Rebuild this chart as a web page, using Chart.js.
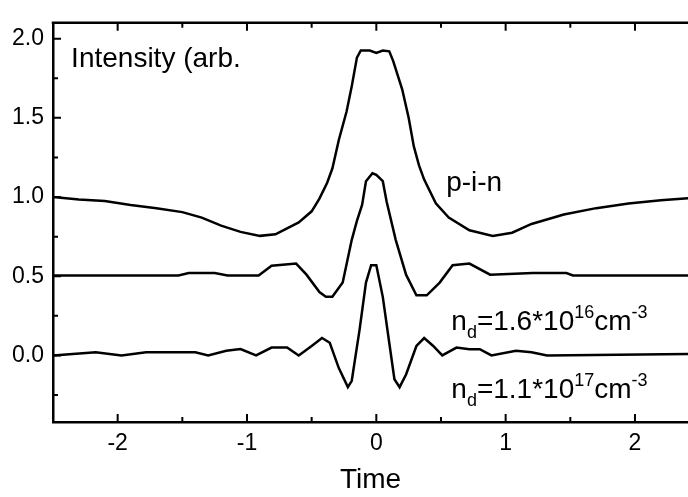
<!DOCTYPE html>
<html>
<head>
<meta charset="utf-8">
<script src="https://cdn.jsdelivr.net/npm/chart.js@4"></script>
<style>
  html, body { margin: 0; padding: 0; background: #fff; }
</style>
</head>
<body>
<canvas id="graph" width="688" height="497"></canvas>
<script>
const ctx = document.getElementById("graph");

// p-i-n trace (top)
const pinTime = [
  -2.5, -2.3, -2.1, -1.9, -1.7, -1.5, -1.35, -1.2, -1.05, -0.9, -0.78, -0.6,
  -0.5, -0.44, -0.38, -0.34, -0.29, -0.23, -0.19, -0.15, -0.12, -0.05, 0, 0.05,
  0.1, 0.13, 0.2, 0.25, 0.29, 0.33, 0.37, 0.46, 0.56, 0.72, 0.9, 1.05, 1.2,
  1.45, 1.7, 1.95, 2.2, 2.45,
];
const pinValues = [
  1.0, 0.985, 0.975, 0.95, 0.93, 0.905, 0.87, 0.82, 0.78, 0.755, 0.765, 0.84,
  0.91, 0.99, 1.09, 1.18, 1.36, 1.54, 1.7, 1.88, 1.925, 1.925, 1.91, 1.925,
  1.92, 1.86, 1.68, 1.5, 1.32, 1.2, 1.11, 0.96, 0.87, 0.79, 0.755, 0.775, 0.83,
  0.89, 0.93, 0.96, 0.98, 0.995,
];

// n_d = 1.6e16 trace (middle)
const midTime = [
  -2.5, -1.53, -1.45, -1.25, -1.15, -0.91, -0.81, -0.62, -0.54, -0.44, -0.39,
  -0.34, -0.26, -0.19, -0.15, -0.11, -0.08, -0.03, 0, 0.05, 0.08, 0.15, 0.23,
  0.31, 0.39, 0.49, 0.59, 0.72, 0.88, 1.21, 1.47, 1.52, 2.45,
];
const midValues = [
  0.505, 0.505, 0.52, 0.52, 0.505, 0.505, 0.567, 0.58, 0.51, 0.4, 0.37,
  0.37, 0.46, 0.73, 0.85, 0.95, 1.1, 1.15, 1.14, 1.1, 0.97, 0.73, 0.51,
  0.38, 0.38, 0.46, 0.57, 0.58, 0.51, 0.52, 0.52, 0.505, 0.505,
];

// n_d = 1.1e17 trace (bottom)
const lowTime = [
  -2.5, -2.17, -1.97, -1.78, -1.4, -1.3, -1.16, -1.05, -0.93, -0.81, -0.69,
  -0.6, -0.5, -0.42, -0.36, -0.29, -0.22, -0.19, -0.13, -0.08, -0.04, 0,
  0.05, 0.1, 0.14, 0.18, 0.23, 0.31, 0.37, 0.44, 0.51, 0.62, 0.72, 0.8, 0.89,
  1.08, 1.2, 1.32, 2.45,
];
const lowValues = [
  0.0, 0.02, 0.0, 0.02, 0.02, 0.0, 0.03, 0.04, 0.0, 0.05, 0.05,
  0.0, 0.06, 0.11, 0.08, -0.08, -0.2, -0.16, 0.16, 0.46, 0.57, 0.57,
  0.37, 0.08, -0.15, -0.2, -0.12, 0.06, 0.11, 0.06, 0.0, 0.05, 0.04, 0.04, 0.0,
  0.03, 0.02, 0.0, 0.01,
];

const xTicks = [-2, -1, 0, 1, 2];
const xMinorTicks = [-2.5, -1.5, -0.5, 0.5, 1.5];
const yTicks = [0, 0.5, 1, 1.5, 2];
const yMinorTicks = [-0.25, 0.25, 0.75, 1.25, 1.75];

const FONT = '"Liberation Sans", Arial, sans-serif';

function toPoints(xs, ys) {
  return xs.map((x, i) => ({ x: x, y: ys[i] }));
}

function series(xs, ys) {
  return {
    data: toPoints(xs, ys),
    borderColor: "#000",
    borderWidth: 2.5,
    pointRadius: 0,
    tension: 0,
    fill: false,
  };
}

// text labels: pieces are [text, "sub" | "sup" | undefined]
const notes = [
  { x: -2.36, y: 1.82, parts: [["Intensity (arb."]] },
  { x: 0.54, y: 1.04, parts: [["p-i-n"]] },
  {
    x: 0.58, y: 0.16,
    parts: [["n"], ["d", "sub"], ["=1.6*10"], ["16", "sup"], ["cm"], ["-3", "sup"]],
  },
  {
    x: 0.58, y: -0.27,
    parts: [["n"], ["d", "sub"], ["=1.1*10"], ["17", "sup"], ["cm"], ["-3", "sup"]],
  },
];

const framePlugin = {
  id: "frame",
  afterDraw(chart) {
    const c = chart.ctx;
    const a = chart.chartArea;
    const xs = chart.scales.x;
    const ys = chart.scales.y;
    c.save();
    c.strokeStyle = "#000";
    c.lineWidth = 2.5;
    c.beginPath();
    c.moveTo(a.left - 1.25, a.top);
    c.lineTo(a.right, a.top);
    c.stroke();

    c.lineWidth = 2;
    c.beginPath();
    const tick = (vals, len) => {
      vals.forEach((v) => {
        const px = xs.getPixelForValue(v);
        c.moveTo(px, a.bottom);
        c.lineTo(px, a.bottom - len);
        c.moveTo(px, a.top);
        c.lineTo(px, a.top + len);
      });
    };
    tick(xTicks, 8);
    tick(xMinorTicks, 5);
    yTicks.forEach((v) => {
      const py = ys.getPixelForValue(v);
      c.moveTo(a.left, py);
      c.lineTo(a.left + 8, py);
    });
    yMinorTicks.forEach((v) => {
      const py = ys.getPixelForValue(v);
      c.moveTo(a.left, py);
      c.lineTo(a.left + 5, py);
    });
    c.stroke();

    // annotations
    c.fillStyle = "#000";
    c.textBaseline = "alphabetic";
    c.textAlign = "left";
    notes.forEach((n) => {
      let px = xs.getPixelForValue(n.x);
      const py = ys.getPixelForValue(n.y);
      n.parts.forEach(([t, kind]) => {
        let dy = 0;
        if (kind === "sub") {
          c.font = "18px " + FONT;
          dy = 8;
        } else if (kind === "sup") {
          c.font = "18px " + FONT;
          dy = -12;
        } else {
          c.font = "28px " + FONT;
        }
        c.fillText(t, px, py + dy);
        px += c.measureText(t).width;
      });
    });
    c.restore();
  },
};

new Chart(ctx, {
  type: "line",
  data: {
    datasets: [
      series(pinTime, pinValues),
      series(midTime, midValues),
      series(lowTime, lowValues),
    ],
  },
  options: {
    responsive: false,
    animation: false,
    layout: {
      padding: { top: 9, right: 0, left: 0, bottom: 0 },
    },
    plugins: {
      legend: { display: false },
      tooltip: { enabled: false },
    },
    scales: {
      x: {
        type: "linear",
        min: -2.5,
        max: 2.41,
        afterBuildTicks: (scale) => {
          scale.ticks = xTicks.map((v) => ({ value: v }));
        },
        afterFit: (scale) => {
          scale.height = 75;
        },
        ticks: {
          padding: 8,
          color: "#000",
          maxRotation: 0,
          autoSkip: false,
          font: { family: FONT, size: 23 },
          callback: (v) => String(v),
        },
        grid: { display: false, drawTicks: false },
        border: { display: true, color: "#000", width: 2.5 },
        title: {
          display: true,
          text: "Time",
          color: "#000",
          font: { family: FONT, size: 28 },
          padding: { top: 0, bottom: 0 },
        },
      },
      y: {
        min: -0.42,
        max: 2.1,
        afterBuildTicks: (scale) => {
          scale.ticks = yTicks.map((v) => ({ value: v }));
        },
        afterFit: (scale) => {
          scale.width = 53;
        },
        ticks: {
          padding: 9,
          color: "#000",
          font: { family: FONT, size: 23 },
          callback: (v) => v.toFixed(1),
        },
        grid: { display: false, drawTicks: false },
        border: { display: true, color: "#000", width: 2.5 },
      },
    },
  },
  plugins: [framePlugin],
});
</script>
</body>
</html>
